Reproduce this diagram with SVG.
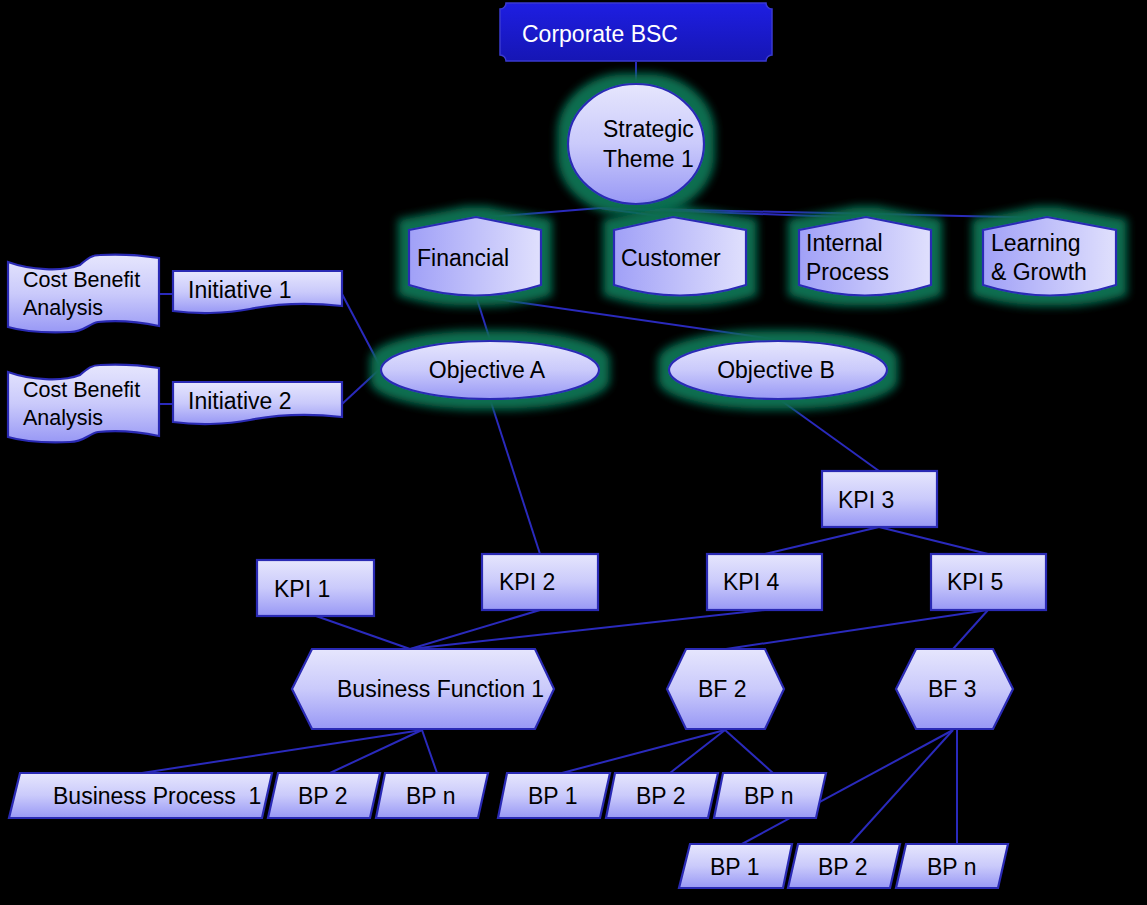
<svg xmlns="http://www.w3.org/2000/svg" width="1147" height="905" viewBox="0 0 1147 905">
<defs>
<linearGradient id="gV" x1="0" y1="0" x2="0" y2="1">
<stop offset="0" stop-color="#e6e6fd"/>
<stop offset="0.5" stop-color="#cacafb"/>
<stop offset="1" stop-color="#9898f5"/>
</linearGradient>
<linearGradient id="gH" x1="0" y1="0" x2="1" y2="0">
<stop offset="0" stop-color="#a0a0f7"/>
<stop offset="1" stop-color="#e0e0fd"/>
</linearGradient>
<linearGradient id="gTop" x1="0" y1="0" x2="0" y2="1">
<stop offset="0" stop-color="#1e1ee2"/>
<stop offset="1" stop-color="#1616b4"/>
</linearGradient>
<filter id="glow" x="-30%" y="-60%" width="160%" height="220%">
<feMorphology in="SourceAlpha" operator="dilate" radius="10" result="d"/>
<feGaussianBlur in="d" stdDeviation="4.5" result="b"/>
<feFlood flood-color="#0a6e50"/>
<feComposite in2="b" operator="in" result="g"/>
<feMerge><feMergeNode in="g"/><feMergeNode in="SourceGraphic"/></feMerge>
</filter>
<style>
.n{fill:url(#gV);stroke:#2a2ab4;stroke-width:2.2}
.p{fill:url(#gH);stroke:#2a2ab4;stroke-width:2.2}
.t{font-family:"Liberation Sans",Arial,sans-serif;font-size:23px;fill:#000}
.s{font-size:21.5px}
.c line{stroke:#2a2abc;stroke-width:2}
</style>
</defs>
<rect width="1147" height="905" fill="#000"/>

<g id="connectors" class="c">
<line x1="636" y1="62" x2="636" y2="84"/>
<line x1="600" y1="208" x2="476" y2="218"/>
<line x1="600" y1="208" x2="673" y2="218"/>
<line x1="600" y1="208" x2="867" y2="218"/>
<line x1="600" y1="208" x2="1047" y2="218"/>
<line x1="476" y1="296" x2="490" y2="340"/>
<line x1="476" y1="296" x2="779" y2="340"/>
<line x1="159" y1="294" x2="173" y2="294"/>
<line x1="159" y1="404" x2="173" y2="404"/>
<line x1="342" y1="294" x2="381" y2="368"/>
<line x1="342" y1="404" x2="381" y2="368"/>
<line x1="490" y1="399" x2="540" y2="554"/>
<line x1="779" y1="399" x2="879" y2="471"/>
<line x1="879" y1="527" x2="765" y2="554"/>
<line x1="879" y1="527" x2="988" y2="554"/>
<line x1="316" y1="616" x2="410" y2="649"/>
<line x1="540" y1="610" x2="410" y2="649"/>
<line x1="765" y1="610" x2="410" y2="649"/>
<line x1="988" y1="610" x2="726" y2="649"/>
<line x1="988" y1="610" x2="953" y2="649"/>
<line x1="422" y1="730" x2="142" y2="773"/>
<line x1="422" y1="730" x2="330" y2="773"/>
<line x1="422" y1="730" x2="437" y2="773"/>
<line x1="725" y1="730" x2="562" y2="773"/>
<line x1="725" y1="730" x2="670" y2="773"/>
<line x1="725" y1="730" x2="773" y2="773"/>
<line x1="953" y1="730" x2="742" y2="844"/>
<line x1="953" y1="730" x2="850" y2="844"/>
<line x1="957" y1="730" x2="957" y2="844"/>
</g>

<g id="corporate-bsc">
<path d="M506,3 H766 A6,6 0 0 0 772,9 V55 A6,6 0 0 0 766,61 H506 A6,6 0 0 0 500,55 V9 A6,6 0 0 0 506,3 Z" fill="url(#gTop)" stroke="#3a3ad0" stroke-width="1.5"/>
<text class="t" x="522" y="42" style="fill:#fff">Corporate BSC</text>
</g>

<g id="strategic-theme">
<ellipse class="n" cx="636" cy="144" rx="68" ry="60" filter="url(#glow)"/>
<text class="t" x="603" y="137">Strategic</text>
<text class="t" x="603" y="167">Theme 1</text>
</g>

<g id="financial">
<path class="p" d="M409,230 L476,217 L541,230 V285 Q475,306 409,285 Z" filter="url(#glow)"/>
<text class="t" x="417" y="266">Financial</text>
</g>
<g id="customer">
<path class="p" d="M614,230 L673,217 L746,230 V285 Q680,306 614,285 Z" filter="url(#glow)"/>
<text class="t" x="621" y="266">Customer</text>
</g>
<g id="internal-process">
<path class="p" d="M799,230 L866,217 L931,230 V285 Q865,306 799,285 Z" filter="url(#glow)"/>
<text class="t" x="806" y="251">Internal</text>
<text class="t" x="806" y="280">Process</text>
</g>
<g id="learning-growth">
<path class="p" d="M983,230 L1047,217 L1116,230 V285 Q1050,306 983,285 Z" filter="url(#glow)"/>
<text class="t" x="991" y="251">Learning</text>
<text class="t" x="991" y="280">&amp; Growth</text>
</g>

<g id="cba-1">
<path class="n" d="M8,262 C30,270 62,272 80,265 C88,258 92,255 100,255 C120,254 140,255 159,258 V326 C140,322 118,320 98,322 C88,324 84,332 70,332 C45,333 25,332 8,327 Z"/>
<text class="t s" x="23" y="287">Cost Benefit</text>
<text class="t s" x="23" y="315">Analysis</text>
</g>
<g id="cba-2">
<path class="n" d="M8,372 C30,380 62,382 80,375 C88,368 92,365 100,365 C120,364 140,365 159,368 V436 C140,432 118,430 98,432 C88,434 84,442 70,442 C45,443 25,442 8,437 Z"/>
<text class="t s" x="23" y="397">Cost Benefit</text>
<text class="t s" x="23" y="425">Analysis</text>
</g>

<g id="initiative-1">
<path class="n" d="M173,271 H342 V306 C305,302 275,304 250,309 C225,314 195,314 173,311 Z"/>
<text class="t" x="188" y="298">Initiative 1</text>
</g>
<g id="initiative-2">
<path class="n" d="M173,382 H342 V417 C305,413 275,415 250,420 C225,425 195,425 173,422 Z"/>
<text class="t" x="188" y="409">Initiative 2</text>
</g>

<g id="objective-a">
<ellipse class="n" cx="490" cy="370" rx="109" ry="29" filter="url(#glow)"/>
<text class="t" x="487" y="378" text-anchor="middle">Objective A</text>
</g>
<g id="objective-b">
<ellipse class="n" cx="778" cy="370" rx="109" ry="29" filter="url(#glow)"/>
<text class="t" x="776" y="378" text-anchor="middle">Objective B</text>
</g>

<g id="kpi-1">
<rect class="n" x="257" y="560" width="117" height="56"/>
<text class="t" x="274" y="597">KPI 1</text>
</g>
<g id="kpi-2">
<rect class="n" x="482" y="554" width="116" height="56"/>
<text class="t" x="499" y="590">KPI 2</text>
</g>
<g id="kpi-3">
<rect class="n" x="822" y="471" width="115" height="56"/>
<text class="t" x="838" y="508">KPI 3</text>
</g>
<g id="kpi-4">
<rect class="n" x="707" y="554" width="115" height="56"/>
<text class="t" x="723" y="590">KPI 4</text>
</g>
<g id="kpi-5">
<rect class="n" x="931" y="554" width="115" height="56"/>
<text class="t" x="947" y="590">KPI 5</text>
</g>

<g id="business-function-1">
<path class="n" d="M312,649 H535 L554,689 L535,729 H312 L292,689 Z"/>
<text class="t" x="337" y="697">Business Function 1</text>
</g>
<g id="bf-2">
<path class="n" d="M686,649 H765 L784,689 L765,729 H686 L667,689 Z"/>
<text class="t" x="698" y="697">BF 2</text>
</g>
<g id="bf-3">
<path class="n" d="M916,649 H993 L1013,689 L993,729 H916 L896,689 Z"/>
<text class="t" x="928" y="697">BF 3</text>
</g>

<g id="business-process-1">
<path class="n" d="M20,773 H272 L262,818 H9 Z"/>
<text class="t" x="53" y="804" xml:space="preserve">Business Process  1</text>
</g>
<g id="bp-2-a">
<path class="n" d="M278,773 H380 L370,818 H268 Z"/>
<text class="t" x="298" y="804">BP 2</text>
</g>
<g id="bp-n-a">
<path class="n" d="M385,773 H488 L478,818 H376 Z"/>
<text class="t" x="406" y="804">BP n</text>
</g>

<g id="bp-1-b">
<path class="n" d="M507,773 H610 L600,818 H498 Z"/>
<text class="t" x="528" y="804">BP 1</text>
</g>
<g id="bp-2-b">
<path class="n" d="M615,773 H718 L708,818 H606 Z"/>
<text class="t" x="636" y="804">BP 2</text>
</g>
<g id="bp-n-b">
<path class="n" d="M723,773 H826 L816,818 H714 Z"/>
<text class="t" x="744" y="804">BP n</text>
</g>

<g id="bp-1-c">
<path class="n" d="M690,844 H792 L783,888 H679 Z"/>
<text class="t" x="710" y="875">BP 1</text>
</g>
<g id="bp-2-c">
<path class="n" d="M798,844 H900 L890,888 H788 Z"/>
<text class="t" x="818" y="875">BP 2</text>
</g>
<g id="bp-n-c">
<path class="n" d="M906,844 H1008 L998,888 H896 Z"/>
<text class="t" x="927" y="875">BP n</text>
</g>
</svg>
